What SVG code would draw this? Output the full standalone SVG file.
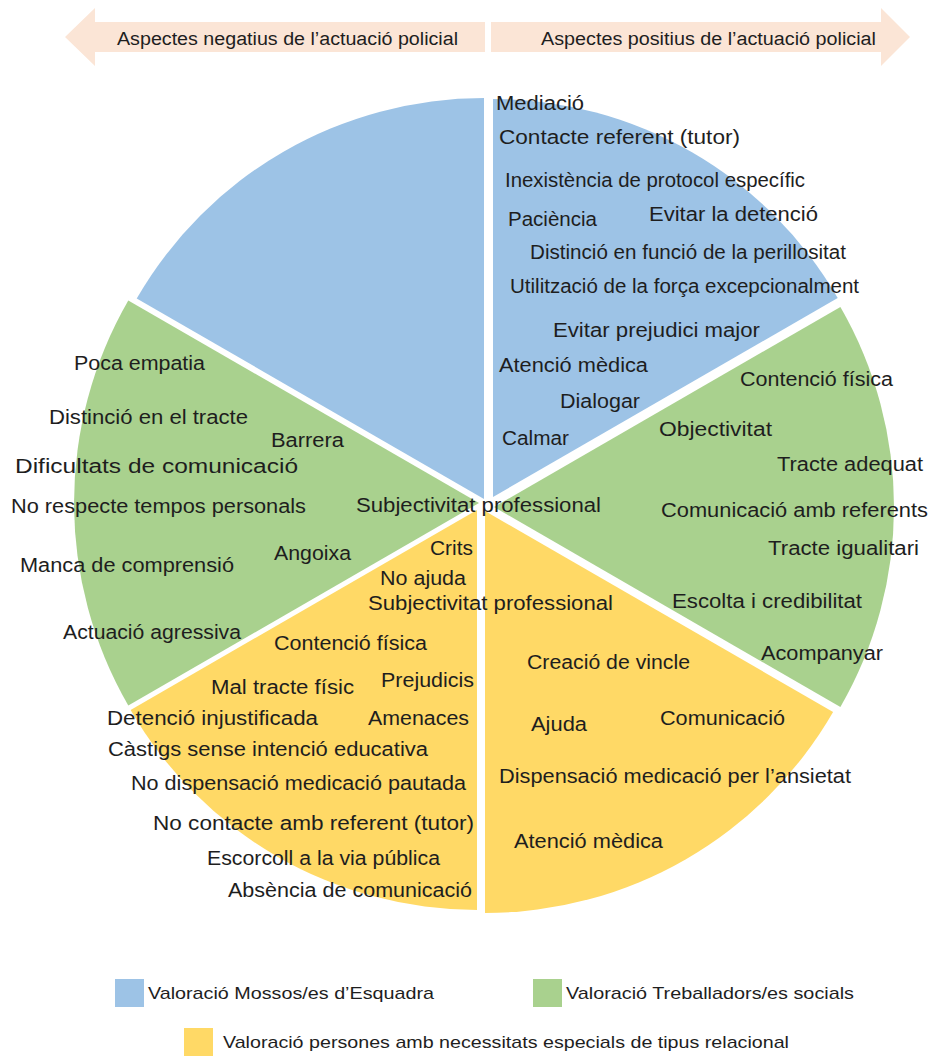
<svg xmlns="http://www.w3.org/2000/svg" width="931" height="1056" viewBox="0 0 931 1056">
<style>
text{font-family:"Liberation Sans",Arial,sans-serif;fill:#1e1e1e}
.p{font-size:20px}
.h{font-size:18px}
.lg{font-size:17px}
.blue{fill:#9DC3E6}
.green{fill:#A9D18E}
.yellow{fill:#FFD966}
.arrow{fill:#FBE5D6}
</style>
<rect width="931" height="1056" fill="#ffffff"/>
<g id="header">
<polygon class="arrow" points="65,37 95,8 95,22 485,22 485,52 95,52 95,66"/>
<polygon class="arrow" points="491,22 881,22 881,8 910,37 881,66 881,52 491,52"/>
<text class="h" x="117" y="45" textLength="341" lengthAdjust="spacingAndGlyphs">Aspectes negatius de l’actuació policial</text>
<text class="h" x="541" y="45" textLength="335" lengthAdjust="spacingAndGlyphs">Aspectes positius de l’actuació policial</text>
</g>
<g id="connectors"></g>
<g id="slice-top-left">
<path class="blue" d="M484,499 L136.7,298.5 A401,401 0 0,1 484,98 Z"/>
</g>
<g id="slice-top-right">
<path class="blue" d="M493,497 L493,99 A398,398 0 0,1 837.7,298 Z"/>
<text class="p" x="496" y="110" textLength="88" lengthAdjust="spacingAndGlyphs">Mediació</text>
<text class="p" x="499" y="144" textLength="241" lengthAdjust="spacingAndGlyphs">Contacte referent (tutor)</text>
<text class="p" x="505" y="187" textLength="300" lengthAdjust="spacingAndGlyphs">Inexistència de protocol específic</text>
<text class="p" x="508" y="226" textLength="89" lengthAdjust="spacingAndGlyphs">Paciència</text>
<text class="p" x="649" y="221" textLength="169" lengthAdjust="spacingAndGlyphs">Evitar la detenció</text>
<text class="p" x="530" y="259" textLength="316" lengthAdjust="spacingAndGlyphs">Distinció en funció de la perillositat</text>
<text class="p" x="510" y="293" textLength="349" lengthAdjust="spacingAndGlyphs">Utilització de la força excepcionalment</text>
<text class="p" x="553" y="337" textLength="207" lengthAdjust="spacingAndGlyphs">Evitar prejudici major</text>
<text class="p" x="499" y="372" textLength="149" lengthAdjust="spacingAndGlyphs">Atenció mèdica</text>
<text class="p" x="560" y="408" textLength="80" lengthAdjust="spacingAndGlyphs">Dialogar</text>
<text class="p" x="502" y="445" textLength="67" lengthAdjust="spacingAndGlyphs">Calmar</text>
</g>
<g id="slice-right">
<path class="green" d="M494,507 L840.4,307 A400,400 0 0,1 840.4,707 Z"/>
<text class="p" x="740" y="386" textLength="153" lengthAdjust="spacingAndGlyphs">Contenció física</text>
<text class="p" x="659" y="436" textLength="113" lengthAdjust="spacingAndGlyphs">Objectivitat</text>
<text class="p" x="777" y="471" textLength="146" lengthAdjust="spacingAndGlyphs">Tracte adequat</text>
<text class="p" x="661" y="517" textLength="267" lengthAdjust="spacingAndGlyphs">Comunicació amb referents</text>
<text class="p" x="768" y="555" textLength="151" lengthAdjust="spacingAndGlyphs">Tracte igualitari</text>
<text class="p" x="672" y="608" textLength="190" lengthAdjust="spacingAndGlyphs">Escolta i credibilitat</text>
<text class="p" x="761" y="660" textLength="122" lengthAdjust="spacingAndGlyphs">Acompanyar</text>
</g>
<g id="slice-left">
<path class="green" d="M479,503 L128.3,705.5 A405,405 0 0,1 128.3,300.5 Z"/>
<text class="p" x="74" y="370" textLength="131" lengthAdjust="spacingAndGlyphs">Poca empatia</text>
<text class="p" x="49" y="424" textLength="199" lengthAdjust="spacingAndGlyphs">Distinció en el tracte</text>
<text class="p" x="271" y="447" textLength="73" lengthAdjust="spacingAndGlyphs">Barrera</text>
<text class="p" x="15" y="473" textLength="283" lengthAdjust="spacingAndGlyphs">Dificultats de comunicació</text>
<text class="p" x="11" y="513" textLength="295" lengthAdjust="spacingAndGlyphs">No respecte tempos personals</text>
<text class="p" x="274" y="560" textLength="77" lengthAdjust="spacingAndGlyphs">Angoixa</text>
<text class="p" x="20" y="572" textLength="214" lengthAdjust="spacingAndGlyphs">Manca de comprensió</text>
<text class="p" x="63" y="639" textLength="178" lengthAdjust="spacingAndGlyphs">Actuació agressiva</text>
</g>
<g id="slice-bottom-right">
<path class="yellow" d="M485,511 L833.1,712 A402,402 0 0,1 485,913 Z"/>
<text class="p" x="527" y="669" textLength="163" lengthAdjust="spacingAndGlyphs">Creació de vincle</text>
<text class="p" x="531" y="731" textLength="56" lengthAdjust="spacingAndGlyphs">Ajuda</text>
<text class="p" x="660" y="725" textLength="125" lengthAdjust="spacingAndGlyphs">Comunicació</text>
<text class="p" x="499" y="783" textLength="352" lengthAdjust="spacingAndGlyphs">Dispensació medicació per l’ansietat</text>
<text class="p" x="514" y="848" textLength="149" lengthAdjust="spacingAndGlyphs">Atenció mèdica</text>
</g>
<g id="slice-bottom-left">
<path class="yellow" d="M477,510 L477,910 A400,400 0 0,1 130.6,710 Z"/>
<text class="p" x="430" y="555" textLength="43" lengthAdjust="spacingAndGlyphs">Crits</text>
<text class="p" x="380" y="585" textLength="86" lengthAdjust="spacingAndGlyphs">No ajuda</text>
<text class="p" x="368" y="610" textLength="245" lengthAdjust="spacingAndGlyphs">Subjectivitat professional</text>
<text class="p" x="274" y="650" textLength="153" lengthAdjust="spacingAndGlyphs">Contenció física</text>
<text class="p" x="211" y="694" textLength="143" lengthAdjust="spacingAndGlyphs">Mal tracte físic</text>
<text class="p" x="381" y="687" textLength="93" lengthAdjust="spacingAndGlyphs">Prejudicis</text>
<text class="p" x="107" y="725" textLength="211" lengthAdjust="spacingAndGlyphs">Detenció injustificada</text>
<text class="p" x="368" y="725" textLength="101" lengthAdjust="spacingAndGlyphs">Amenaces</text>
<text class="p" x="108" y="756" textLength="320" lengthAdjust="spacingAndGlyphs">Càstigs sense intenció educativa</text>
<text class="p" x="131" y="790" textLength="335" lengthAdjust="spacingAndGlyphs">No dispensació medicació pautada</text>
<text class="p" x="153" y="830" textLength="321" lengthAdjust="spacingAndGlyphs">No contacte amb referent (tutor)</text>
<text class="p" x="207" y="865" textLength="233" lengthAdjust="spacingAndGlyphs">Escorcoll a la via pública</text>
<text class="p" x="228" y="897" textLength="244" lengthAdjust="spacingAndGlyphs">Absència de comunicació</text>
</g>
<g id="center-label">
<text class="p" x="356" y="512" textLength="245" lengthAdjust="spacingAndGlyphs">Subjectivitat professional</text>
</g>
<g id="legend">
<rect class="blue" x="115" y="979" width="29" height="28"/>
<text class="lg" x="148" y="999" textLength="286" lengthAdjust="spacingAndGlyphs">Valoració Mossos/es d’Esquadra</text>
<rect class="green" x="533" y="979" width="29" height="28"/>
<text class="lg" x="566" y="999" textLength="288" lengthAdjust="spacingAndGlyphs">Valoració Treballadors/es socials</text>
<rect class="yellow" x="184" y="1028" width="29" height="28"/>
<text class="lg" x="223" y="1048" textLength="566" lengthAdjust="spacingAndGlyphs">Valoració persones amb necessitats especials de tipus relacional</text>
</g>
</svg>
